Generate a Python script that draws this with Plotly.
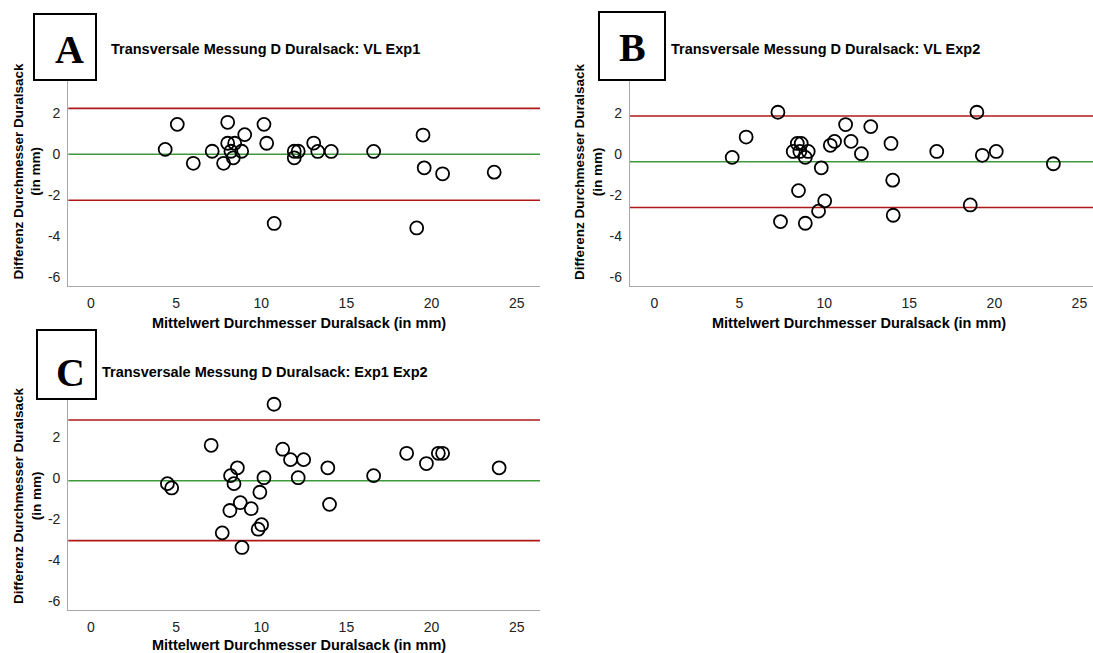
import plotly.graph_objects as go

W, H = 1093, 653

# ---------------- data ----------------
a_x = [4.36, 5.07, 6.01, 7.12, 7.79, 8.03, 8.03, 8.22, 8.44, 8.36, 8.85, 9.03, 10.16, 10.32, 10.76,
       11.94, 11.94, 12.17, 13.08, 13.32, 14.11, 16.6, 19.5, 19.57, 19.13, 20.65, 23.68]
a_y = [0.24, 1.46, -0.44, 0.15, -0.44, 1.56, 0.54, 0.15, 0.54, -0.17, 0.15, 0.96, 1.46, 0.54, -3.37,
       0.15, -0.17, 0.15, 0.55, 0.14, 0.14, 0.14, 0.94, -0.66, -3.59, -0.95, -0.87]
a_lines = {"mean": 0.0, "upper": 2.24, "lower": -2.24}

b_x = [4.58, 5.40, 7.27, 7.42, 8.17, 8.41, 8.48, 8.56, 8.64, 8.88, 9.05, 8.88, 9.66, 9.82, 10.02,
       10.35, 10.6, 11.25, 11.57, 12.18, 12.73, 13.92, 14.02, 14.05, 16.61, 18.58, 18.97, 19.29, 20.11, 23.47]
b_y = [-0.15, 0.84, 2.05, -3.28, 0.14, 0.53, -1.77, 0.14, 0.53, -0.15, 0.14, -3.36, -2.77, -0.66, -2.27,
       0.44, 0.63, 1.45, 0.63, 0.03, 1.35, 0.53, -1.26, -2.97, 0.14, -2.47, 2.05, -0.05, 0.14, -0.46]
b_lines = {"mean": -0.36, "upper": 1.87, "lower": -2.59}

c_x = [4.49, 4.74, 7.06, 7.71, 8.16, 8.2, 8.4, 8.6, 8.77, 8.87, 9.41, 9.82, 9.92, 10.02, 10.16,
       10.75, 11.26, 11.72, 12.17, 12.49, 13.91, 14.01, 16.6, 18.54, 19.7, 20.4, 20.65, 23.97]
c_y = [-0.26, -0.47, 1.61, -2.66, -1.57, 0.13, -0.26, 0.51, -1.19, -3.37, -1.48, -2.48, -0.68, -2.26, 0.03,
       3.61, 1.42, 0.91, 0.03, 0.91, 0.51, -1.27, 0.13, 1.22, 0.72, 1.22, 1.22, 0.51]
c_lines = {"mean": -0.12, "upper": 2.84, "lower": -3.04}

panel_letters = ["A", "B", "C"]
panel_titles = ["Transversale Messung D Duralsack: VL Exp1",
                "Transversale Messung D Duralsack: VL Exp2",
                "Transversale Messung D Duralsack: Exp1 Exp2"]
x_title = "Mittelwert Durchmesser Duralsack (in mm)"
y_title = "Differenz Durchmesser Duralsack<br>(in mm)"
x_ticks = [0, 5, 10, 15, 20, 25]
x_ticktext = ["0", "5", "10", "15", "20", "25"]
y_ticks = [-6, -4, -2, 0, 2]
y_ticktext = ["-6", "-4", "-2", "0", "2"]


def px(x):
    return x / W


def py(y):
    return 1 - y / H


fig = go.Figure()

panels = [
    dict(x=a_x, y=a_y, lines=a_lines, xd=(68.3, 540), yd=(286, 62), xr=(-1.33, 26.37),
         box=(34, 14, 96, 80), letter=(69, 49), title=(108.5, 49), xt=(299, 322.5), yt=(27, 171.5)),
    dict(x=b_x, y=b_y, lines=b_lines, xd=(630, 1093), yd=(286, 62), xr=(-1.43, 25.8),
         box=(599, 12, 665, 80), letter=(632, 47), title=(669, 49), xt=(859, 322.5), yt=(588.5, 171.5)),
    dict(x=c_x, y=c_y, lines=c_lines, xd=(68.3, 540), yd=(610, 386), xr=(-1.33, 26.37),
         box=(37, 330, 96, 399), letter=(70.5, 372), title=(99.5, 372), xt=(299, 644.5), yt=(27, 496)),
]

red = "#b01818"
green = "#3c9a3c"
axis_font = dict(family="Liberation Sans, Arial, sans-serif", size=14, color="#222222")
xt_font = dict(family="Liberation Sans, Arial, sans-serif", size=14.5, color="#000000")
yt_font = dict(family="Liberation Sans, Arial, sans-serif", size=13.5, color="#000000")

for i, p in enumerate(panels):
    n = "" if i == 0 else str(i + 1)
    xa, ya = "x" + n, "y" + n
    fig.add_trace(go.Scatter(
        x=p["x"], y=p["y"], mode="markers", xaxis=xa, yaxis=ya, showlegend=False,
        marker=dict(symbol="circle-open", size=13, color="black", line=dict(width=1.8, color="black")),
    ))
    common = dict(showgrid=False, zeroline=False, showline=True, linecolor="#a8a8a8", linewidth=1.3,
                  ticks="", tickfont=axis_font, ticklabelstandoff=4, fixedrange=True)
    fig.layout["xaxis" + n] = dict(common, domain=[px(p["xd"][0]), px(p["xd"][1])], range=list(p["xr"]),
                                   tickvals=x_ticks, ticktext=x_ticktext, anchor=ya)
    fig.layout["yaxis" + n] = dict(common, domain=[py(p["yd"][0]), py(p["yd"][1])], range=[-6.42, 4.5],
                                   tickvals=y_ticks, ticktext=y_ticktext, anchor=xa)
    for key, col in (("upper", red), ("mean", green), ("lower", red)):
        fig.add_shape(type="line", xref=xa + " domain", yref=ya, x0=0, x1=1,
                      y0=p["lines"][key], y1=p["lines"][key], layer="below",
                      line=dict(color=col, width=1.6))
    bx0, by0, bx1, by1 = p["box"]
    fig.add_shape(type="rect", xref="paper", yref="paper", x0=px(bx0), x1=px(bx1),
                  y0=py(by1), y1=py(by0), fillcolor="white", line=dict(color="black", width=2), layer="above")
    fig.add_annotation(xref="paper", yref="paper", x=px(p["letter"][0]), y=py(p["letter"][1]),
                       text="<b>" + panel_letters[i] + "</b>", showarrow=False, xanchor="center", yanchor="middle",
                       font=dict(family="Liberation Serif, Times New Roman, serif", size=40, color="black"))
    fig.add_annotation(xref="paper", yref="paper", x=px(p["title"][0]), y=py(p["title"][1]),
                       text="<b>" + panel_titles[i] + "</b>", showarrow=False, xanchor="left", yanchor="middle",
                       font=dict(family="Liberation Sans, Arial, sans-serif", size=14.5, color="black"))
    fig.add_annotation(xref="paper", yref="paper", x=px(p["xt"][0]), y=py(p["xt"][1]),
                       text="<b>" + x_title + "</b>", showarrow=False, xanchor="center", yanchor="middle",
                       font=xt_font)
    fig.add_annotation(xref="paper", yref="paper", x=px(p["yt"][0]), y=py(p["yt"][1]),
                       text="<b>" + y_title + "</b>", showarrow=False, xanchor="center", yanchor="middle",
                       textangle=-90, font=yt_font)

fig.update_layout(width=W, height=H, autosize=False, margin=dict(l=0, r=0, t=0, b=0),
                  paper_bgcolor="white", plot_bgcolor="white", showlegend=False)

fig.write_html("out.html")
